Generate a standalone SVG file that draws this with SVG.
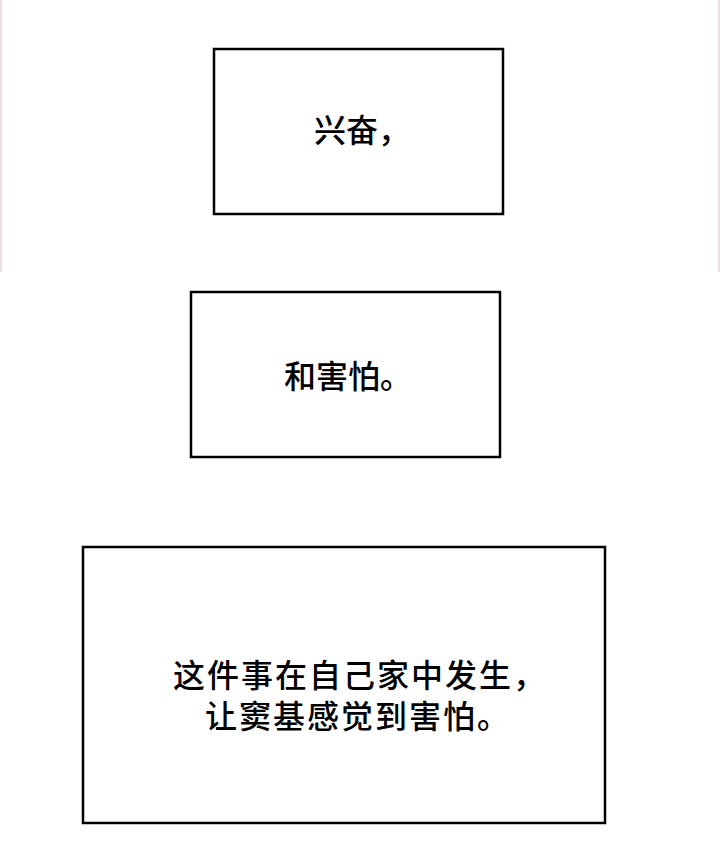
<svg xmlns="http://www.w3.org/2000/svg" width="720" height="865" viewBox="0 0 720 865">
<style>
.box{fill:#fff;stroke:#000;stroke-width:2.5}
.t{font-family:"Noto Sans CJK SC","Noto Sans",sans-serif;font-size:32px;font-weight:500;fill:#000;text-anchor:middle}
.w{letter-spacing:2px}
</style>
<rect width="720" height="865" fill="#fff"/>
<g id="edges" stroke="#f3dede" stroke-width="2"><line x1="1" y1="0" x2="1" y2="272"/><line x1="719" y1="0" x2="719" y2="272"/></g>
<g id="connectors"></g>
<g id="n1"><rect class="box" x="214" y="49" width="289" height="165"/><text class="t" x="362" y="142">兴奋，</text></g>
<g id="n2"><rect class="box" x="191" y="292" width="309" height="165"/><text class="t" x="348" y="388">和害怕。</text></g>
<g id="n3"><rect class="box" x="83" y="547" width="522" height="276"/><text class="t w" x="360" y="687">这件事在自己家中发生，</text><text class="t w" x="358" y="728">让窦基感觉到害怕。</text></g>
</svg>
